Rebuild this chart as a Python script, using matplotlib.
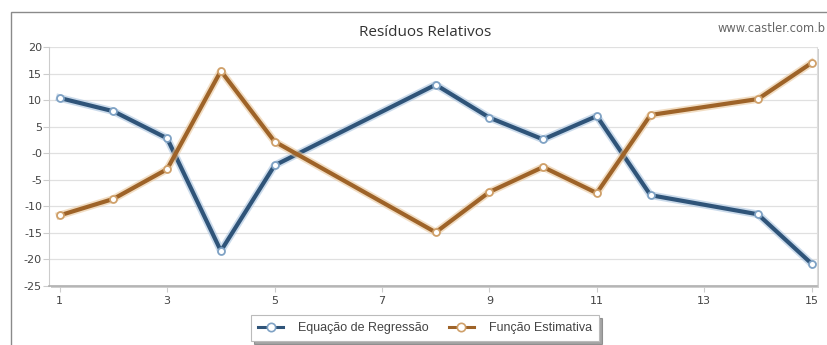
import matplotlib
matplotlib.use("Agg")
import matplotlib.pyplot as plt
import matplotlib.patheffects as pe
from matplotlib.patches import Rectangle

x_vals = [1, 2, 3, 4, 5, 8, 9, 10, 11, 12, 14, 15]
regressao = [10.4, 7.9, 2.8, -18.4, -2.3, 12.9, 6.7, 2.6, 7.0, -7.9, -11.5, -20.8]
estimativa = [-11.7, -8.6, -3.0, 15.5, 2.2, -14.9, -7.3, -2.6, -7.5, 7.2, 10.2, 17.0]

x_ticks = [1, 3, 5, 7, 9, 11, 13, 15]
y_ticks = [20, 15, 10, 5, 0, -5, -10, -15, -20, -25]
y_tick_labels = ["20", "15", "10", "5", "-0", "-5", "-10", "-15", "-20", "-25"]

BLUE = "#2f5479"
ORANGE = "#9e6328"

fig = plt.figure(figsize=(8.28, 3.45), dpi=100)

# moldura externa (cortada à direita e embaixo)
fig.patches.append(Rectangle((11 / 828, -0.05), 1.0, 1 - 12 / 345 + 0.05,
                             transform=fig.transFigure, fill=False,
                             edgecolor="#8a8a8a", linewidth=1.0, zorder=0))

left, right = 49 / 828, 817 / 828
bottom, top = 1 - 286 / 345, 1 - 47 / 345

# sombra da área do gráfico
fig.patches.append(Rectangle((left + 2 / 828, bottom - 2 / 345), right - left, top - bottom,
                             transform=fig.transFigure, facecolor="#cfcfcf",
                             edgecolor="none", zorder=0))

ax = fig.add_axes([left, bottom, right - left, top - bottom])
ax.set_zorder(2)
ax.set_facecolor("white")

for y in y_ticks:
    ax.axhline(y, color="#e0e0e0", linewidth=0.9, zorder=1)

series = [
    (regressao, BLUE, "#a9c3df", "#7fa2c4", "Equação de Regressão"),
    (estimativa, ORANGE, "#e9c79c", "#cfa06a", "Função Estimativa"),
]
for values, color, glow, edge, label in series:
    ax.plot(x_vals, values, color=color, linewidth=3.0, zorder=3, label=label,
            path_effects=[pe.Stroke(linewidth=5.5, foreground=glow, alpha=0.6),
                          pe.Normal()])
    ax.plot(x_vals, values, linestyle="none", zorder=4,
            marker="o", markersize=5, markerfacecolor="white",
            markeredgecolor=edge, markeredgewidth=1.3)

ax.set_xlim(0.8, 15.1)
ax.set_ylim(-25, 20)
ax.set_xticks(x_ticks)
ax.set_xticklabels([str(t) for t in x_ticks])
ax.set_yticks(y_ticks)
ax.set_yticklabels(y_tick_labels)

ax.tick_params(axis="both", labelsize=8, colors="#444444", length=4, width=0.8)
ax.tick_params(axis="y", color="#cccccc", pad=1)
ax.tick_params(axis="x", color="#cccccc", pad=3)

ax.spines["top"].set_visible(False)
ax.spines["right"].set_color("#dddddd")
ax.spines["left"].set_color("#cccccc")
ax.spines["bottom"].set_color("#b0b0b0")
ax.spines["bottom"].set_linewidth(1.2)

fig.text(425 / 828, 1 - 32 / 345, "Resíduos Relativos", ha="center", va="center",
         fontsize=11, color="#333333", family="Open Sans")
# no original o endereço aparece cortado na borda direita
fig.text(826 / 828, 1 - 29 / 345, "www.castler.com.b", ha="right", va="center",
         fontsize=8.3, color="#666666", family="DejaVu Sans")

leg = fig.legend(loc="center", bbox_to_anchor=(425 / 828, 1 - 328 / 345),
                 ncol=2, frameon=True, fancybox=False, shadow=True,
                 prop={"family": "Liberation Sans", "size": 9}, handlelength=2.0,
                 columnspacing=1.6, borderpad=0.55, handletextpad=1.2)
leg.get_frame().set_edgecolor("#bbbbbb")
leg.get_frame().set_linewidth(0.8)
for t in leg.get_texts():
    t.set_color("#444444")
for h, (_, color, _, edge, _) in zip(leg.legend_handles, series):
    h.set_linewidth(2.2)
    h.set_path_effects([])
    h.set_marker("o")
    h.set_markersize(6)
    h.set_markerfacecolor("white")
    h.set_markeredgecolor(edge)
    h.set_markeredgewidth(1.2)

fig.savefig("out.png", dpi=100)
